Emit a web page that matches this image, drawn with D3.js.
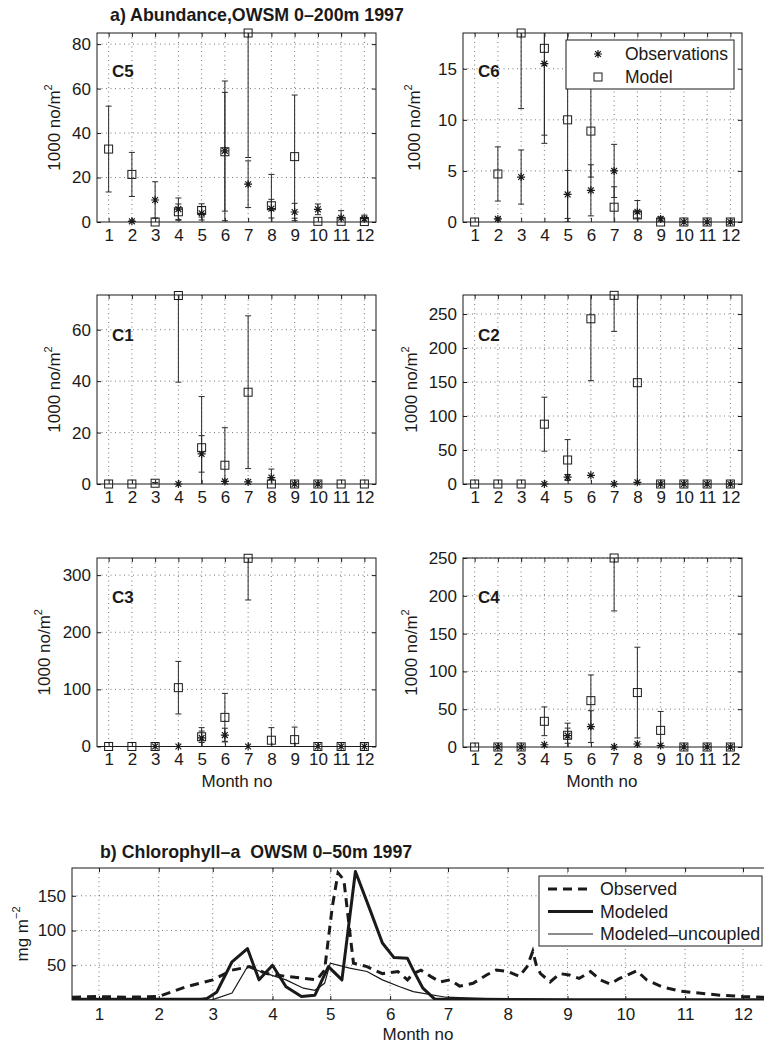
<!DOCTYPE html>
<html>
<head>
<meta charset="utf-8">
<script src="https://cdn.jsdelivr.net/npm/d3@7"></script>
<style>
  body { margin: 0; background: #fff; }
  svg { display: block; font-family: "Liberation Sans", Arial, sans-serif; }
</style>
</head>
<body>
<div id="chart"></div>
<script>
// ---- data ----
const months = [1, 2, 3, 4, 5, 6, 7, 8, 9, 10, 11, 12];

// C5
const c5Obs    = [null, 0.3, 9.9, 5.8, 3.9, 32, 17, 6, 4.5, 5.7, 1.9, 1.5];
const c5ObsErr = [null, 0.2, 8.2, 5, 3, 31.4, 10.5, 4.2, 3.9, 2.4, 3.2, 1.6];
const c5Mod    = [32.8, 21.4, 0, 4.6, 5.2, 31.6, 85, 7.3, 29.4, 0.3, 0.3, 0.2];
const c5ModErr = [19.3, 9.9, 0, 3.5, 3, 26.7, 56, 14.1, 27.7, 0, 0, 0];
// C6
const c6Obs    = [null, 0.3, 4.4, 15.5, 2.7, 3.1, 5.0, 1.0, 0.3, 0, 0, 0];
const c6ObsErr = [null, 0.1, 2.65, 7, 2.35, 2.5, 2.6, 1.1, 0.2, 0, 0, 0];
const c6Mod    = [0, 4.7, 18.5, 17, 10, 8.9, 1.45, 0.7, 0, 0, 0, 0];
const c6ModErr = [0, 2.65, 7.4, 9.3, 10, 4.5, 2, 0.3, 0, 0, 0, 0];
// C1
const c1Obs    = [null, null, null, 0, 11.7, 1.0, 0.8, 2.5, 0, 0, null, null];
const c1ObsErr = [null, null, null, 0, 7.1, 0, 0, 3.3, 0, 0, null, null];
const c1Mod    = [0, 0, 0.3, 73.3, 14.1, 7.3, 35.7, 0, 0, 0, 0, 0];
const c1ModErr = [0, 0, 0.3, 33.7, 19.9, 14.6, 29.7, 0, 0, 0, 0, 0];
// C2
const c2Obs    = [null, null, null, 0, 10, 12.8, 0, 2.5, 0, 0, 0, 0];
const c2ObsErr = [null, null, null, 0, 4, 0, 0, 0, 0, 0, 0, 0];
const c2Mod    = [0, 0, 0, 88, 35.3, 243, 277.5, 149, 0, 0, 0, 0];
const c2ModErr = [0, 0, 0, 39.7, 30, 91, 53, 160, 0, 0, 0, 0];
// C3
const c3Obs    = [null, null, 0, 0, 15, 20, 0, null, null, 0, 0, 0];
const c3ObsErr = [null, null, 0, 0, 18, 12, 0, null, null, 0, 0, 0];
const c3Mod    = [0, 0, 0, 103, 17, 51, 329.5, 11, 12, 0, 0, 0];
const c3ModErr = [0, 0, 0, 46, 10, 42, 73, 22, 22, 0, 0, 0];
// C4
const c4Obs    = [null, 0, 0, 3, 15, 27, 0, 4, 2, 0, 0, 0];
const c4ObsErr = [null, 0, 0, 0, 10, 21, 0, 0, 0, 0, 0, 0];
const c4Mod    = [0, 0, 0, 34, 15.5, 61.3, 250, 72, 22, 0, 0, 0];
const c4ModErr = [0, 0, 0, 19, 16, 34, 70, 60, 25, 0, 0, 0];

// chlorophyll (x = day of year)
const monthStartDays = [1, 32, 60, 91, 121, 152, 182, 213, 244, 274, 305, 335];
const chlTicks = [50, 100, 150];
const chlObsDay = [-13, 0, 15, 32, 46, 60, 70, 79, 88, 98, 114, 118, 122, 125, 128, 131, 133, 140, 148, 156,
                   161, 164, 168, 173, 178, 183, 188, 195, 202, 207, 213, 219, 223, 226, 228, 230, 235, 240,
                   245, 250, 256, 261, 266, 271, 280, 285, 293, 302, 312, 323, 335, 345, 365];
const chlObsVal = [4, 5, 4, 5, 19, 29, 43, 48, 38, 34, 29, 43, 134, 183, 173, 100, 53, 48, 38, 41,
                   29, 38, 43, 34, 26, 29, 20, 24, 36, 43, 41, 34, 48, 70, 48, 38, 26, 38,
                   36, 31, 41, 29, 23, 31, 42, 29, 19, 13, 10, 7, 5, 4, 5];
const chlModDay = [-13, 54, 57, 62, 70, 78, 84, 91, 98, 106, 113, 120, 127, 134, 141, 148, 154, 161, 164, 169, 175, 200, 250, 300, 365];
const chlModVal = [1, 1, 2, 11, 55, 74, 29, 50, 19, 5, 7, 48, 29, 185, 134, 82, 61, 60, 43, 17, 1.5, 1, 0.5, 0.5, 0.5];
const chlUncDay = [-13, 58, 60, 70, 78, 88, 98, 107, 113, 118, 121, 131, 140, 148, 157, 164, 181, 198, 212, 250, 365];
const chlUncVal = [0, 0, 0.5, 10, 48, 38, 29, 17, 14, 24, 53, 46, 41, 29, 19, 12, 4, 2.4, 1, 0.5, 0.5];

// ---- drawing ----
const svg = d3.select("#chart").append("svg")
  .attr("width", 764).attr("height", 1045);
svg.append("rect").attr("width", 764).attr("height", 1045).attr("fill", "#fff");

const ink = "#1a1a1a";
const gridCol = "#555";

function asterisk(g, cx, cy) {
  const r = 4, d = 2.9;
  g.append("path")
    .attr("d", `M${cx - r},${cy}H${cx + r}M${cx},${cy - r}V${cy + r}` +
               `M${cx - d},${cy - d}L${cx + d},${cy + d}M${cx - d},${cy + d}L${cx + d},${cy - d}`)
    .attr("stroke", ink).attr("stroke-width", 1.2).attr("fill", "none");
}

function errorBars(g, x, y, vals, errs) {
  vals.forEach((v, i) => {
    if (v === null || !errs[i]) return;
    const cx = x(months[i]), lo = y(v - errs[i]), hi = y(v + errs[i]);
    g.append("path")
      .attr("d", `M${cx},${lo}V${hi}M${cx - 3},${lo}H${cx + 3}M${cx - 3},${hi}H${cx + 3}`)
      .attr("stroke", "#2a2a2a").attr("stroke-width", 1).attr("fill", "none");
  });
}

function drawPanel(p) {
  const x = d3.scaleLinear().domain([0.5, 12.5]).range([p.x0, p.x1]);
  const y = d3.scaleLinear().domain([0, p.ymax]).range([p.y1, p.y0]);
  const g = svg.append("g");

  svg.append("clipPath").attr("id", "clip-" + p.name)
    .append("rect").attr("x", p.x0).attr("y", p.y0)
    .attr("width", p.x1 - p.x0).attr("height", p.y1 - p.y0);

  // dotted grid
  g.selectAll(null).data(months).enter().append("line")
    .attr("x1", d => x(d)).attr("x2", d => x(d)).attr("y1", p.y0).attr("y2", p.y1)
    .attr("stroke", gridCol).attr("stroke-width", 0.8).attr("stroke-dasharray", "1,3.5");
  g.selectAll(null).data(p.ticks.filter(t => t > 0)).enter().append("line")
    .attr("x1", p.x0).attr("x2", p.x1).attr("y1", d => y(d)).attr("y2", d => y(d))
    .attr("stroke", gridCol).attr("stroke-width", 0.8).attr("stroke-dasharray", "1,3.5");

  // axes (ticks point inward)
  const ax = g.append("g").attr("transform", `translate(0,${p.y1})`)
    .call(d3.axisBottom(x).tickValues(months).tickSize(-4).tickPadding(p.xPad));
  const ay = g.append("g").attr("transform", `translate(${p.x0},0)`)
    .call(d3.axisLeft(y).tickValues(p.ticks).tickSize(-4).tickPadding(6));
  g.append("g").attr("transform", `translate(0,${p.y0})`)
    .call(d3.axisTop(x).tickValues(months).tickSize(-4).tickFormat(""));
  g.append("g").attr("transform", `translate(${p.x1},0)`)
    .call(d3.axisRight(y).tickValues(p.ticks).tickSize(-4).tickFormat(""));
  g.selectAll(".domain").remove();
  g.selectAll(".tick line").attr("stroke", ink);
  [ax, ay].forEach(a => a.selectAll("text").attr("font-size", 17).attr("fill", ink)
    .attr("font-family", "'Liberation Sans', Arial, sans-serif"));

  g.append("rect").attr("x", p.x0).attr("y", p.y0)
    .attr("width", p.x1 - p.x0).attr("height", p.y1 - p.y0)
    .attr("fill", "none").attr("stroke", ink).attr("stroke-width", 1);

  // error bars, clipped to the axes box
  const eb = g.append("g").attr("clip-path", `url(#clip-${p.name})`);
  errorBars(eb, x, y, p.obs, p.obsErr);
  errorBars(eb, x, y, p.mod, p.modErr);

  // markers
  p.mod.forEach((v, i) => {
    if (v === null) return;
    g.append("rect").attr("x", x(months[i]) - 4).attr("y", y(v) - 4)
      .attr("width", 8).attr("height", 8)
      .attr("fill", "none").attr("stroke", ink).attr("stroke-width", 1);
  });
  p.obs.forEach((v, i) => {
    if (v === null) return;
    asterisk(g, x(months[i]), y(v));
  });

  // panel label
  g.append("text").attr("x", p.x0 + 15).attr("y", p.y0 + p.labelDy)
    .attr("font-size", 17).attr("font-weight", "bold").attr("fill", ink).text(p.name);

  // y label
  const yl = g.append("text")
    .attr("transform", `translate(${p.ylx},${(p.y0 + p.y1) / 2}) rotate(-90)`)
    .attr("text-anchor", "middle").attr("font-size", 17).attr("fill", ink);
  yl.append("tspan").text("1000 no/m");
  yl.append("tspan").attr("dy", -8).attr("font-size", 11).text("2");

  return { x, y, g };
}

const panels = [
  { name: "C5", x0: 97, x1: 376, y0: 33, y1: 222, ymax: 85, ticks: [0, 20, 40, 60, 80], labelDy: 44, ylx: 60, xPad: 7,
    obs: c5Obs, obsErr: c5ObsErr, mod: c5Mod, modErr: c5ModErr },
  { name: "C6", x0: 463, x1: 742, y0: 33, y1: 222, ymax: 18.5, ticks: [0, 5, 10, 15], labelDy: 44, ylx: 420, xPad: 7,
    obs: c6Obs, obsErr: c6ObsErr, mod: c6Mod, modErr: c6ModErr },
  { name: "C1", x0: 97, x1: 376, y0: 295, y1: 484, ymax: 73.5, ticks: [0, 20, 40, 60], labelDy: 46, ylx: 60, xPad: 7,
    obs: c1Obs, obsErr: c1ObsErr, mod: c1Mod, modErr: c1ModErr },
  { name: "C2", x0: 463, x1: 742, y0: 295, y1: 484, ymax: 278, ticks: [0, 50, 100, 150, 200, 250], labelDy: 46, ylx: 417, xPad: 7,
    obs: c2Obs, obsErr: c2ObsErr, mod: c2Mod, modErr: c2ModErr },
  { name: "C3", x0: 97, x1: 376, y0: 558, y1: 746.5, ymax: 330, ticks: [0, 100, 200, 300], labelDy: 45, ylx: 50, xPad: 6,
    obs: c3Obs, obsErr: c3ObsErr, mod: c3Mod, modErr: c3ModErr },
  { name: "C4", x0: 463, x1: 742, y0: 558, y1: 747, ymax: 250, ticks: [0, 50, 100, 150, 200, 250], labelDy: 45, ylx: 417, xPad: 6,
    obs: c4Obs, obsErr: c4ObsErr, mod: c4Mod, modErr: c4ModErr }
];
panels.forEach(drawPanel);

// titles and x labels for part a
svg.append("text").attr("x", 110).attr("y", 21).attr("font-size", 17.8).attr("font-weight", "bold")
  .attr("fill", ink).text("a) Abundance,OWSM 0\u2013200m 1997");
[237, 602].forEach(cx => svg.append("text").attr("x", cx).attr("y", 787)
  .attr("text-anchor", "middle").attr("font-size", 17).attr("fill", ink).text("Month no"));

// legend in C6
const lg = svg.append("g");
lg.append("rect").attr("x", 566).attr("y", 40).attr("width", 168).attr("height", 49)
  .attr("fill", "#fff").attr("stroke", ink).attr("stroke-width", 1);
asterisk(lg, 598, 54);
lg.append("rect").attr("x", 594).attr("y", 73).attr("width", 8).attr("height", 8)
  .attr("fill", "none").attr("stroke", ink);
lg.append("text").attr("x", 625).attr("y", 60).attr("font-size", 17.5).attr("fill", ink).text("Observations");
lg.append("text").attr("x", 625).attr("y", 83).attr("font-size", 17.5).attr("fill", ink).text("Model");

// ---- part b: chlorophyll ----
const cb = { x0: 72, y0: 868, y1: 1000 };
const xc = d3.scaleLinear().domain([-13, 365]).range([72, 72 + 378 * 1.928]);
const yc = d3.scaleLinear().domain([0, 190]).range([cb.y1, cb.y0]);
const gc = svg.append("g");
const xEnd = xc(365);

gc.selectAll(null).data(monthStartDays).enter().append("line")
  .attr("x1", d => xc(d)).attr("x2", d => xc(d)).attr("y1", cb.y0).attr("y2", cb.y1)
  .attr("stroke", gridCol).attr("stroke-width", 0.8).attr("stroke-dasharray", "1,3.5");
gc.selectAll(null).data(chlTicks).enter().append("line")
  .attr("x1", cb.x0).attr("x2", xEnd).attr("y1", d => yc(d)).attr("y2", d => yc(d))
  .attr("stroke", gridCol).attr("stroke-width", 0.8).attr("stroke-dasharray", "1,3.5");

const cax = gc.append("g").attr("transform", `translate(0,${cb.y1})`)
  .call(d3.axisBottom(xc).tickValues(monthStartDays).tickSize(-4).tickPadding(8)
    .tickFormat((d, i) => months[i]));
const cay = gc.append("g").attr("transform", `translate(${cb.x0},0)`)
  .call(d3.axisLeft(yc).tickValues(chlTicks).tickSize(-4).tickPadding(6));
gc.append("g").attr("transform", `translate(0,${cb.y0})`)
  .call(d3.axisTop(xc).tickValues(monthStartDays).tickSize(-4).tickFormat(""));
gc.selectAll(".domain").remove();
gc.selectAll(".tick line").attr("stroke", ink);
[cax, cay].forEach(a => a.selectAll("text").attr("font-size", 17).attr("fill", ink)
  .attr("font-family", "'Liberation Sans', Arial, sans-serif"));
gc.append("rect").attr("x", cb.x0).attr("y", cb.y0).attr("width", xEnd - cb.x0).attr("height", cb.y1 - cb.y0)
  .attr("fill", "none").attr("stroke", ink).attr("stroke-width", 1);

svg.append("clipPath").attr("id", "clip-chl").append("rect")
  .attr("x", cb.x0).attr("y", cb.y0 - 10).attr("width", xEnd - cb.x0).attr("height", cb.y1 - cb.y0 + 10);
const lineGen = d3.line().x(d => xc(d[0])).y(d => yc(d[1]));
const lines = gc.append("g").attr("clip-path", "url(#clip-chl)");
lines.append("path").datum(d3.zip(chlUncDay, chlUncVal)).attr("d", lineGen)
  .attr("fill", "none").attr("stroke", ink).attr("stroke-width", 1.2);
lines.append("path").datum(d3.zip(chlModDay, chlModVal)).attr("d", lineGen)
  .attr("fill", "none").attr("stroke", ink).attr("stroke-width", 3).attr("stroke-linejoin", "round");
lines.append("path").datum(d3.zip(chlObsDay, chlObsVal)).attr("d", lineGen)
  .attr("fill", "none").attr("stroke", ink).attr("stroke-width", 3).attr("stroke-dasharray", "9,6");

svg.append("text").attr("x", 100).attr("y", 858).attr("font-size", 17.8).attr("font-weight", "bold")
  .attr("fill", ink).text("b) Chlorophyll\u2013a\u00a0 OWSM 0\u201350m 1997");
svg.append("text").attr("x", 418).attr("y", 1040).attr("text-anchor", "middle")
  .attr("font-size", 17).attr("fill", ink).text("Month no");
const cyl = svg.append("text").attr("transform", `translate(28,${(cb.y0 + cb.y1) / 2}) rotate(-90)`)
  .attr("text-anchor", "middle").attr("font-size", 17).attr("fill", ink);
cyl.append("tspan").text("mg m");
cyl.append("tspan").attr("dy", -8).attr("font-size", 11).text("\u22122");

// legend part b
const lb = svg.append("g");
lb.append("rect").attr("x", 539).attr("y", 876).attr("width", 223).attr("height", 70)
  .attr("fill", "#fff").attr("stroke", ink).attr("stroke-width", 1);
const legendB = [
  { label: "Observed", w: 3, dash: "9,6" },
  { label: "Modeled", w: 3, dash: null },
  { label: "Modeled\u2013uncoupled", w: 1.2, dash: null }
];
legendB.forEach((d, i) => {
  const cy = 889 + i * 22.5;
  lb.append("line").attr("x1", 548).attr("x2", 593).attr("y1", cy).attr("y2", cy)
    .attr("stroke", ink).attr("stroke-width", d.w).attr("stroke-dasharray", d.dash);
  lb.append("text").attr("x", 600).attr("y", cy + 6).attr("font-size", 17.8).attr("fill", ink).text(d.label);
});
</script>
</body>
</html>
